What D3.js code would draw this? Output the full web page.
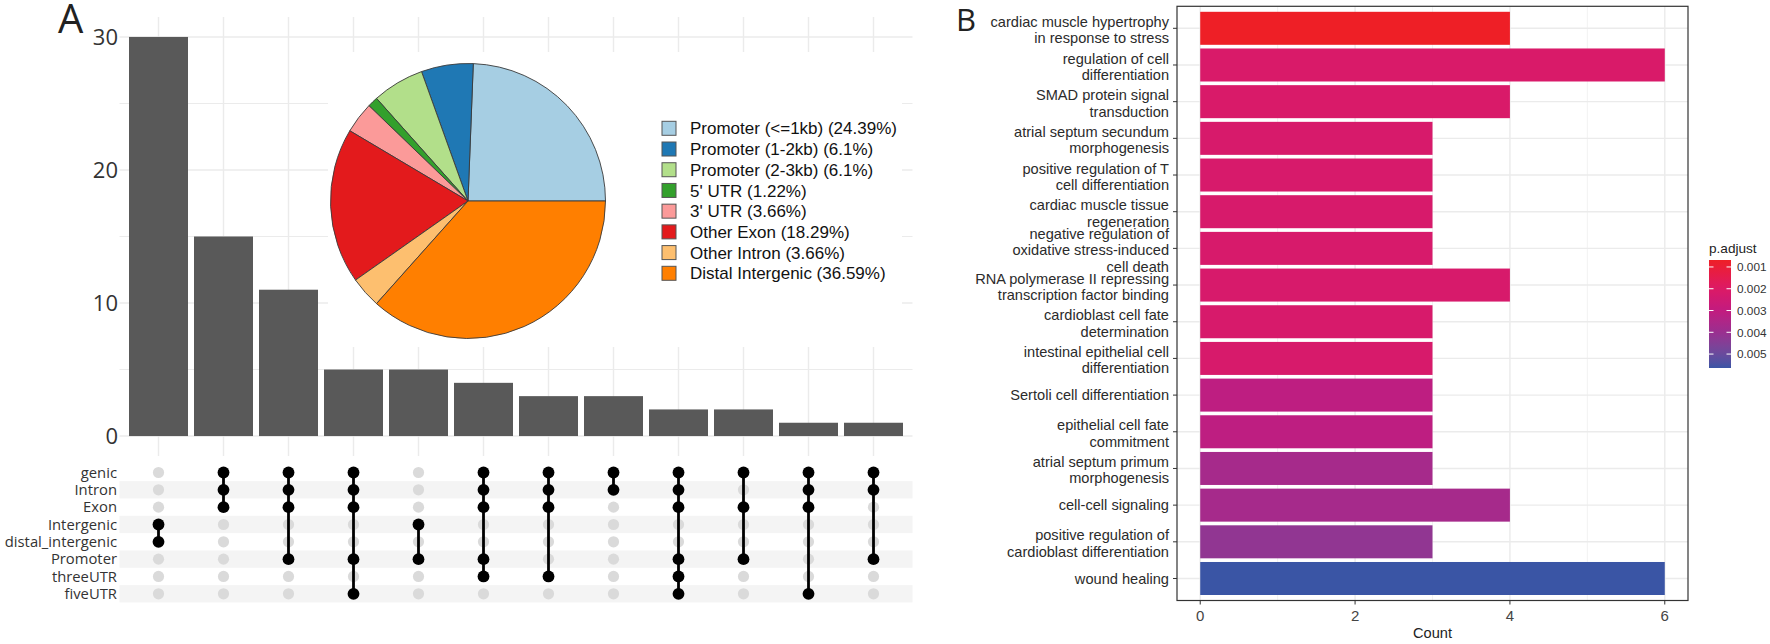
<!DOCTYPE html>
<html>
<head>
<meta charset="utf-8">
<script src="https://cdn.jsdelivr.net/npm/d3@7"></script>
<style>
  html, body { margin: 0; padding: 0; background: #ffffff; }
  svg { display: block; }
</style>
</head>
<body>
<svg id="chart" width="1770" height="644"></svg>
<script>
// ---------------- DATA ----------------
// Panel A: upset bars (intersection sizes)
const upsetCounts = [30, 15, 11, 5, 5, 4, 3, 3, 2, 2, 1, 1];
const setNames = ["genic", "Intron", "Exon", "Intergenic", "distal_intergenic", "Promoter", "threeUTR", "fiveUTR"];
const intersections = [
  ["Intergenic", "distal_intergenic"],
  ["genic", "Intron", "Exon"],
  ["genic", "Intron", "Exon", "Promoter"],
  ["genic", "Intron", "Exon", "Promoter", "fiveUTR"],
  ["Intergenic", "Promoter"],
  ["genic", "Intron", "Exon", "Promoter", "threeUTR"],
  ["genic", "Intron", "Exon", "threeUTR"],
  ["genic", "Intron"],
  ["genic", "Intron", "Exon", "Promoter", "threeUTR", "fiveUTR"],
  ["genic", "Exon", "Promoter"],
  ["genic", "Intron", "Exon", "fiveUTR"],
  ["genic", "Intron", "Promoter"]
];
const upsetMajorTicks = [0, 10, 20, 30];
const upsetMinorTicks = [5, 15, 25];

// Panel A inset: annotation pie
const pieLabels = ["Promoter (<=1kb)", "Promoter (1-2kb)", "Promoter (2-3kb)", "5' UTR", "3' UTR", "Other Exon", "Other Intron", "Distal Intergenic"];
const piePercents = [24.39, 6.1, 6.1, 1.22, 3.66, 18.29, 3.66, 36.59];
const pieColors = ["#A6CEE3", "#1F78B4", "#B2DF8A", "#33A02C", "#FB9A99", "#E31A1C", "#FDBF6F", "#FF7F00"];

// Panel B: GO enrichment bar plot
const goTerms = [
  ["cardiac muscle hypertrophy", "in response to stress"],
  ["regulation of cell", "differentiation"],
  ["SMAD protein signal", "transduction"],
  ["atrial septum secundum", "morphogenesis"],
  ["positive regulation of T", "cell differentiation"],
  ["cardiac muscle tissue", "regeneration"],
  ["negative regulation of", "oxidative stress-induced", "cell death"],
  ["RNA polymerase II repressing", "transcription factor binding"],
  ["cardioblast cell fate", "determination"],
  ["intestinal epithelial cell", "differentiation"],
  ["Sertoli cell differentiation"],
  ["epithelial cell fate", "commitment"],
  ["atrial septum primum", "morphogenesis"],
  ["cell-cell signaling"],
  ["positive regulation of", "cardioblast differentiation"],
  ["wound healing"]
];
const goCounts = [4, 6, 4, 3, 3, 3, 3, 4, 3, 3, 3, 3, 3, 4, 3, 6];
const goPadj = [0.00068, 0.0021, 0.0021, 0.0022, 0.0022, 0.0022, 0.0022, 0.0022, 0.0022, 0.0022,
                0.0031, 0.0031, 0.0037, 0.0037, 0.0042, 0.00564];
const countTicks = [0, 2, 4, 6];
const countMinorTicks = [1, 3, 5];
const padjTicks = [0.001, 0.002, 0.003, 0.004, 0.005];
const padjDomain = [0.00068, 0.00564];

// ---------------- DRAW ----------------
const svg = d3.select("#chart");
const fontA = "'Open Sans', 'DejaVu Sans', sans-serif";
const fontB = "'Liberation Sans', Arial, sans-serif";
const gridCol = "#ebebeb";

// ===== Panel A =====
const gA = svg.append("g");

const xA = d3.scaleBand().domain(d3.range(upsetCounts.length))
  .range([126, 906]).paddingInner(6 / 65).paddingOuter(3 / 65);
const yA = d3.scaleLinear().domain([-1.5, 31.5]).range([456, 17]);
const panelAx0 = 119.5, panelAx1 = 912.5;

// grid
gA.append("g").selectAll("line.minor").data(upsetMinorTicks).join("line")
  .attr("x1", panelAx0).attr("x2", panelAx1)
  .attr("y1", d => yA(d)).attr("y2", d => yA(d))
  .attr("stroke", gridCol).attr("stroke-width", 1.1);
gA.append("g").selectAll("line.major").data(upsetMajorTicks).join("line")
  .attr("x1", panelAx0).attr("x2", panelAx1)
  .attr("y1", d => yA(d)).attr("y2", d => yA(d))
  .attr("stroke", gridCol).attr("stroke-width", 1.4);
gA.append("g").selectAll("line.v").data(d3.range(upsetCounts.length)).join("line")
  .attr("x1", d => xA(d) + xA.bandwidth() / 2).attr("x2", d => xA(d) + xA.bandwidth() / 2)
  .attr("y1", yA.range()[1]).attr("y2", yA.range()[0])
  .attr("stroke", gridCol).attr("stroke-width", 1.4);

// bars
gA.append("g").selectAll("rect").data(upsetCounts).join("rect")
  .attr("x", (d, i) => xA(i)).attr("width", xA.bandwidth())
  .attr("y", d => yA(d)).attr("height", d => yA(0) - yA(d))
  .attr("fill", "#595959");

// y axis labels
gA.append("g").selectAll("text").data(upsetMajorTicks).join("text")
  .attr("x", 118).attr("y", d => yA(d)).attr("dy", "0.36em")
  .attr("text-anchor", "end").attr("font-family", fontA).attr("font-size", 22)
  .attr("fill", "#333").text(d => d);

// matrix
const yRow = d3.scalePoint().domain(setNames).range([472.5, 593.8]);
const rowH = yRow.step();
gA.append("g").selectAll("rect").data(setNames.filter((d, i) => i % 2 === 1)).join("rect")
  .attr("x", panelAx0).attr("width", panelAx1 - panelAx0)
  .attr("y", d => yRow(d) - rowH / 2).attr("height", rowH)
  .attr("fill", "#f4f4f4");
gA.append("g").selectAll("text").data(setNames).join("text")
  .attr("x", 117).attr("y", d => yRow(d)).attr("dy", "0.35em")
  .attr("text-anchor", "end").attr("font-family", fontA).attr("font-size", 14.8)
  .attr("fill", "#333").text(d => d);

const cx = i => xA(i) + xA.bandwidth() / 2;
// grey background dots
const allDots = [];
intersections.forEach((s, i) => setNames.forEach(n => allDots.push({ i, n, on: s.includes(n) })));
gA.append("g").selectAll("circle").data(allDots.filter(d => !d.on)).join("circle")
  .attr("cx", d => cx(d.i)).attr("cy", d => yRow(d.n)).attr("r", 5.6)
  .attr("fill", "#dadada");
// connecting lines
gA.append("g").selectAll("line").data(intersections).join("line")
  .attr("x1", (d, i) => cx(i)).attr("x2", (d, i) => cx(i))
  .attr("y1", d => d3.min(d, n => yRow(n))).attr("y2", d => d3.max(d, n => yRow(n)))
  .attr("stroke", "#000").attr("stroke-width", 2.8);
gA.append("g").selectAll("circle").data(allDots.filter(d => d.on)).join("circle")
  .attr("cx", d => cx(d.i)).attr("cy", d => yRow(d.n)).attr("r", 5.9)
  .attr("fill", "#000");

// inset (pie) with white background
const inset = gA.append("g");
inset.append("rect").attr("x", 328).attr("y", 52).attr("width", 902 - 328).attr("height", 347 - 52)
  .attr("fill", "#fff");
const pieCx = 468, pieCy = 201, pieR = 137.5;
const pie = d3.pie().sort(null).value(d => d)
  .startAngle(Math.PI / 2).endAngle(Math.PI / 2 - 2 * Math.PI);
const arc = d3.arc().innerRadius(0).outerRadius(pieR);
inset.append("g").attr("transform", `translate(${pieCx},${pieCy})`)
  .selectAll("path").data(pie(piePercents)).join("path")
  .attr("d", arc).attr("fill", (d, i) => pieColors[i])
  .attr("stroke", "#3a3a3a").attr("stroke-width", 0.9);

const legY = d3.scalePoint().domain(d3.range(pieLabels.length)).range([128.3, 273.3]);
const leg = inset.append("g");
leg.selectAll("rect").data(pieLabels).join("rect")
  .attr("x", 662).attr("y", (d, i) => legY(i) - 7).attr("width", 14).attr("height", 14)
  .attr("fill", (d, i) => pieColors[i]).attr("stroke", "#555").attr("stroke-width", 1);
leg.selectAll("text").data(pieLabels).join("text")
  .attr("x", 690).attr("y", (d, i) => legY(i)).attr("dy", "0.36em")
  .attr("font-family", fontB).attr("font-size", 17).attr("fill", "#111")
  .text((d, i) => `${d} (${piePercents[i]}%)`);

// panel letter
svg.append("text").attr("x", 58).attr("y", 32.5).attr("font-family", fontA)
  .attr("font-size", 40).attr("fill", "#222").text("A");

// ===== Panel B =====
const gB = svg.append("g");
const bx0 = 1177, bx1 = 1688, by0 = 6.3, by1 = 600.5;
const xB = d3.scaleLinear().domain([-0.3, 6.3]).range([bx0, bx1]);
const yB = d3.scaleBand().domain(d3.range(goTerms.length)).range([by0, by1])
  .paddingInner(0.1).paddingOuter(0.15);
const color = d3.scaleLinear()
  .domain([padjDomain[0], 0.002, 0.003, 0.004, padjDomain[1]])
  .range(["#EE1F26", "#DC1A66", "#C21B7F", "#9A2E90", "#3A55A5"])
  .interpolate(d3.interpolateLab).clamp(true);

gB.append("rect").attr("x", bx0).attr("y", by0).attr("width", bx1 - bx0).attr("height", by1 - by0)
  .attr("fill", "#fff");
gB.append("g").selectAll("line").data(countMinorTicks).join("line")
  .attr("x1", d => xB(d)).attr("x2", d => xB(d)).attr("y1", by0).attr("y2", by1)
  .attr("stroke", "#f2f2f2").attr("stroke-width", 1);
gB.append("g").selectAll("line").data(countTicks).join("line")
  .attr("x1", d => xB(d)).attr("x2", d => xB(d)).attr("y1", by0).attr("y2", by1)
  .attr("stroke", gridCol).attr("stroke-width", 1.4);
gB.append("g").selectAll("line").data(d3.range(goTerms.length)).join("line")
  .attr("x1", bx0).attr("x2", bx1)
  .attr("y1", d => yB(d) + yB.bandwidth() / 2).attr("y2", d => yB(d) + yB.bandwidth() / 2)
  .attr("stroke", gridCol).attr("stroke-width", 1.4);

gB.append("g").selectAll("rect").data(goCounts).join("rect")
  .attr("x", xB(0)).attr("width", d => xB(d) - xB(0))
  .attr("y", (d, i) => yB(i)).attr("height", yB.bandwidth())
  .attr("fill", (d, i) => color(goPadj[i]));

gB.append("rect").attr("x", bx0).attr("y", by0).attr("width", bx1 - bx0).attr("height", by1 - by0)
  .attr("fill", "none").attr("stroke", "#333").attr("stroke-width", 1.2);

// y axis ticks & labels
const yLab = gB.append("g");
goTerms.forEach((lines, i) => {
  const yc = yB(i) + yB.bandwidth() / 2;
  yLab.append("line").attr("x1", bx0 - 4).attr("x2", bx0).attr("y1", yc).attr("y2", yc)
    .attr("stroke", "#333").attr("stroke-width", 1);
  const n = lines.length;
  const off = n > 1 ? 1.5 : 0;
  yLab.selectAll(null).data(lines).join("text")
    .attr("x", 1169).attr("y", (d, k) => yc + (k - (n - 1) / 2) * 16.4 + off).attr("dy", "0.36em")
    .attr("text-anchor", "end").attr("font-family", fontB).attr("font-size", 14.6)
    .attr("fill", "#2b2b2b").text(d => d);
});

// x axis
gB.append("g").selectAll("line").data(countTicks).join("line")
  .attr("x1", d => xB(d)).attr("x2", d => xB(d)).attr("y1", by1).attr("y2", by1 + 4)
  .attr("stroke", "#333").attr("stroke-width", 1);
gB.append("g").selectAll("text").data(countTicks).join("text")
  .attr("x", d => xB(d)).attr("y", 615.5).attr("dy", "0.36em").attr("text-anchor", "middle")
  .attr("font-family", fontB).attr("font-size", 15).attr("fill", "#444").text(d => d);
gB.append("text").attr("x", (bx0 + bx1) / 2).attr("y", 633).attr("dy", "0.36em")
  .attr("text-anchor", "middle").attr("font-family", fontB).attr("font-size", 14.6)
  .attr("fill", "#222").text("Count");

// colour legend
const cb = { x: 1709, y0: 260, y1: 368, w: 22 };
const yCb = d3.scaleLinear().domain(padjDomain).range([cb.y0, cb.y1]);
const defs = svg.append("defs");
const grad = defs.append("linearGradient").attr("id", "padjGrad")
  .attr("x1", 0).attr("x2", 0).attr("y1", 0).attr("y2", 1);
d3.range(0, 1.0001, 0.05).forEach(t => {
  grad.append("stop").attr("offset", t)
    .attr("stop-color", color(padjDomain[0] + t * (padjDomain[1] - padjDomain[0])));
});
gB.append("text").attr("x", cb.x).attr("y", 248).attr("dy", "0.36em")
  .attr("font-family", fontB).attr("font-size", 13.6).attr("fill", "#222").text("p.adjust");
gB.append("rect").attr("x", cb.x).attr("y", cb.y0).attr("width", cb.w).attr("height", cb.y1 - cb.y0)
  .attr("fill", "url(#padjGrad)");
const cbt = gB.append("g");
padjTicks.forEach(t => {
  cbt.append("line").attr("x1", cb.x).attr("x2", cb.x + 4.5).attr("y1", yCb(t)).attr("y2", yCb(t))
    .attr("stroke", "#fff").attr("stroke-width", 1);
  cbt.append("line").attr("x1", cb.x + cb.w - 4.5).attr("x2", cb.x + cb.w).attr("y1", yCb(t)).attr("y2", yCb(t))
    .attr("stroke", "#fff").attr("stroke-width", 1);
});
cbt.selectAll("text").data(padjTicks).join("text")
  .attr("x", 1737).attr("y", d => yCb(d)).attr("dy", "0.36em")
  .attr("font-family", fontB).attr("font-size", 11.8).attr("fill", "#333")
  .text(d => d3.format(".3f")(d));

svg.append("text").attr("x", 956).attr("y", 31).attr("font-family", fontA)
  .attr("font-size", 31).attr("fill", "#222").text("B");
</script>
</body>
</html>
